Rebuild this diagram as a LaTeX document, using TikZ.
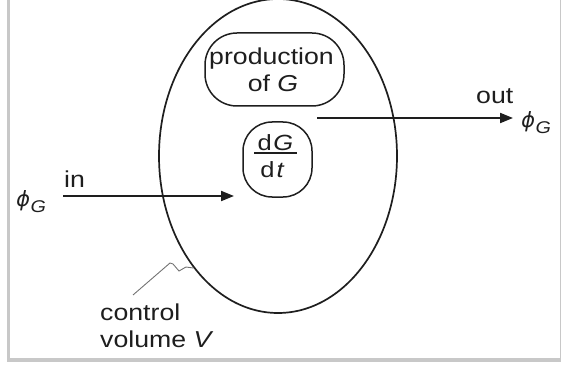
\documentclass[tikz,border=0pt]{standalone}
\usepackage{fontspec}
\setmainfont{Liberation Sans}[FakeStretch=1.16]
\newfontfamily\phifont{DejaVu Sans}[FakeSlant=0.2]
\usetikzlibrary{shapes.geometric,arrows.meta}
\definecolor{ink}{HTML}{1E1E1E}
\definecolor{framegray}{HTML}{C8C8C8}
\newcommand{\phiG}[1]{{\phifont\fontsize{21}{24}\selectfont ϕ}\kern1.5pt\raisebox{#1}{\fontsize{17}{20}\selectfont\textit{G}}}
\begin{document}
\begin{tikzpicture}[x=1pt,y=-1pt,
  lbl/.style={font=\fontsize{23}{27}\selectfont, text=ink, inner sep=0pt, anchor=base},
  lblw/.style={lbl, anchor=base west},
  fraclbl/.style={font=\fontsize{22}{26}\selectfont, text=ink, inner sep=0pt, anchor=base},
  symlbl/.style={text=ink, inner sep=0pt, anchor=base west},
  flow/.style={line width=2pt, draw=ink, -{Triangle[length=13pt, width=10pt]}},
  pill/.style={draw=ink, line width=1.5pt, rectangle, inner sep=0pt},
  volume/.style={draw=ink, line width=1.7pt, ellipse, inner sep=0pt},
  leader/.style={draw=black!55, line width=0.9pt},
  frameline/.style={draw=framegray, line width=3.5pt}
]
\useasboundingbox (0,0) rectangle (561,374);
% frame
\draw[frameline] (8.7,0) -- (8.7,360) -- (561,360);
\draw[draw=framegray, line width=1pt] (560.5,0) -- (560.5,360);

% control volume
\node[volume, minimum width=238pt, minimum height=314pt] (cv) at (278,156) {};

% production of G
\node[pill, rounded corners=32pt, minimum width=139pt, minimum height=73pt] (prod) at (274.5,69.5) {};
\node[lbl] (prodA) at (271.5,65) {production};
\node[lbl] (prodB) at (273,92) {of \textit{G}};

% dG/dt
\node[pill, rounded corners=29pt, minimum width=69pt, minimum height=75pt] (rate) at (277.5,159.5) {};
\node[fraclbl] (num) at (275.5,150) {d\kern1.5pt\textit{G}};
\node[fraclbl] (den) at (272.5,177) {d\kern2pt\textit{t}};
\coordinate (barL) at (254,152.7);
\coordinate (barR) at (297,152.7);
\draw[draw=ink, line width=1.6pt] (barL) -- (barR);

% in flow
\coordinate (inS) at (63,196);
\coordinate (inE) at (234,196);
\draw[flow] (inS) -- (inE);
\node[lblw] (inlbl) at (64,187) {in};
\node[symlbl] (phiin) at (15,206) {\phiG{-6pt}};

% out flow
\coordinate (outS) at (317,118);
\coordinate (outE) at (513,118);
\draw[flow] (outS) -- (outE);
\node[lblw] (outlbl) at (476,104) {out};
\node[symlbl] (phiout) at (520,128) {\phiG{-5.5pt}};

% control volume label with leader
\node[lblw] (cvA) at (100,320) {control};
\node[lblw] (cvB) at (100,347) {volume \textit{V}};
\coordinate (ldS) at (133,295);
\draw[leader] (ldS) -- (170,263) -- (173,264) -- (179,271) -- (186,267) -- (cv.233);
\end{tikzpicture}
\end{document}
